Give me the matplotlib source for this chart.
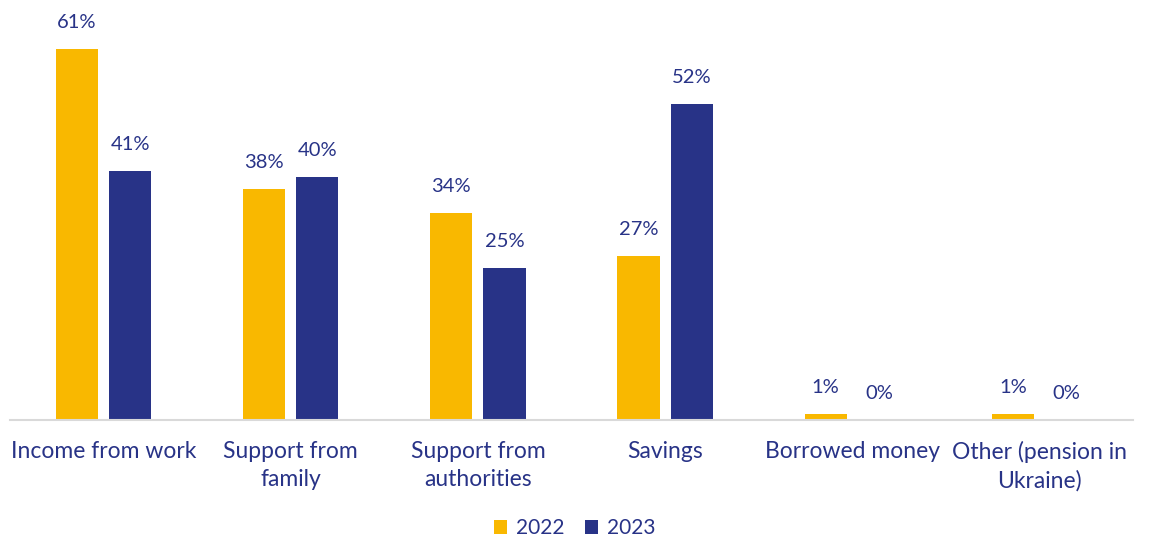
import matplotlib
matplotlib.use("Agg")
import matplotlib.pyplot as plt
import numpy as np

categories = ["Income from work", "Support from\nfamily", "Support from\nauthorities",
              "Savings", "Borrowed money", "Other (pension in\nUkraine)"]
values_2022 = [61, 38, 34, 27, 1, 1]
values_2023 = [41, 40, 25, 52, 0, 0]
series_names = ["2022", "2023"]

YELLOW = "#F9B800"
NAVY = "#283387"
plt.rcParams["font.family"] = ["Lato", "DejaVu Sans"]

fig = plt.figure(figsize=(11.49, 5.39), dpi=100)
ax = fig.add_axes([10 / 1149, 1 - 420 / 539, 1123 / 1149, 410 / 539])

x = np.arange(len(categories))
w = 0.225
off = 0.142
b1 = ax.bar(x - off, values_2022, w, color=YELLOW, label=series_names[0])
b2 = ax.bar(x + off, values_2023, w, color=NAVY, label=series_names[1])

for bars, vals in ((b1, values_2022), (b2, values_2023)):
    for r, v in zip(bars, vals):
        ax.text(r.get_x() + r.get_width() / 2, v + 3.0, f"{v}%", ha="center",
                va="bottom", fontsize=14.5, color=NAVY)

ax.set_xlim(-0.5, len(categories) - 0.5)
ax.set_ylim(0, 67.5)
ax.set_yticks([])
ax.set_xticks(x)
ax.set_xticklabels(categories, fontsize=16.5, color=NAVY, linespacing=1.4)
ax.tick_params(axis="x", length=0, pad=15)
for s in ("top", "right", "left"):
    ax.spines[s].set_visible(False)
ax.spines["bottom"].set_color("#D9D9D9")
ax.spines["bottom"].set_linewidth(1.5)

leg = fig.legend(handles=[b1, b2], labels=series_names, loc="center",
                 bbox_to_anchor=(0.5, 1 - 528 / 539), ncol=2, frameon=False,
                 fontsize=15, handlelength=0.65, handleheight=0.65,
                 handletextpad=0.4, columnspacing=1.0)
for t in leg.get_texts():
    t.set_color(NAVY)

fig.savefig("out.png", dpi=100)
